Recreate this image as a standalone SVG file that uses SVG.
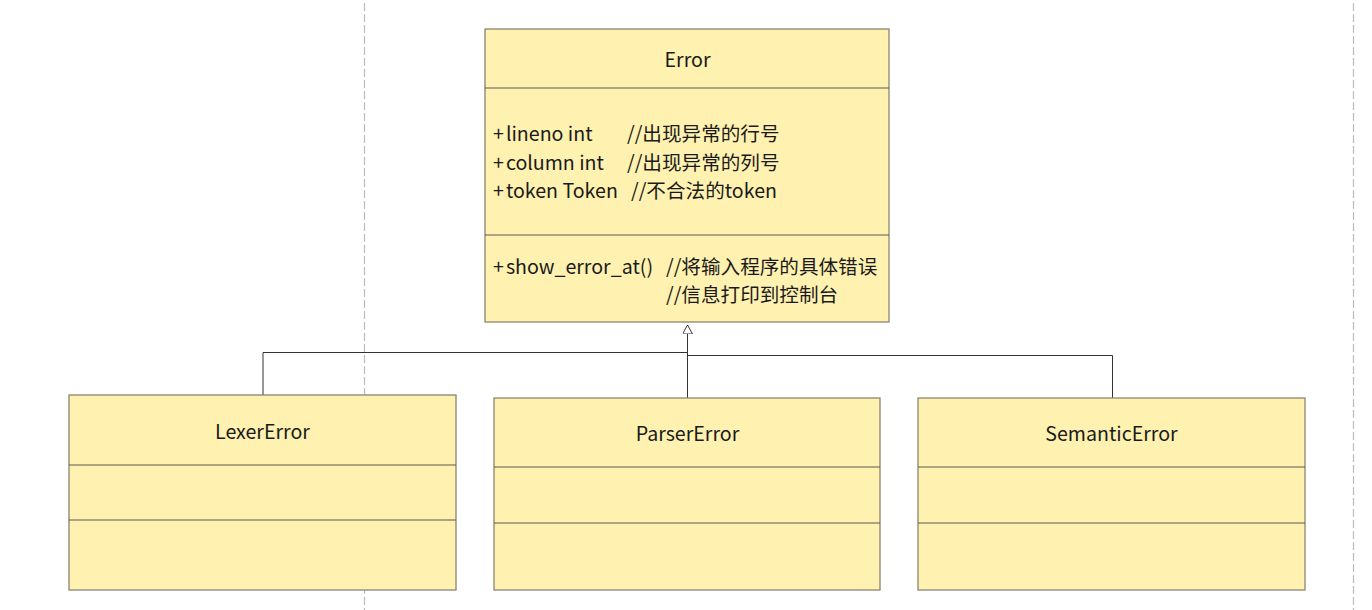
<svg xmlns="http://www.w3.org/2000/svg" width="1372" height="610" viewBox="0 0 1372 610">
<style>
.box{fill:#fff1b0;stroke:#8a8672;stroke-width:1.3}
.div{stroke:#5a5a50;stroke-width:1.2}
.t{font-family:"Noto Sans CJK SC","Liberation Sans",sans-serif;font-size:19.6px;fill:#1a1a1a}
.c{text-anchor:middle}
.conn{fill:none;stroke:#333;stroke-width:1}
.guide{stroke:#bbbbbb;stroke-width:1.2;stroke-dasharray:8 3}
</style>
<defs>
<marker id="tri" markerWidth="12" markerHeight="12" refX="9" refY="5" orient="auto" markerUnits="userSpaceOnUse">
<path d="M0,0 L9,5 L0,10 Z" fill="#fff" stroke="#333" stroke-width="1"/>
</marker>
</defs>
<rect width="1372" height="610" fill="#fff"/>
<line class="guide" x1="364.5" y1="3" x2="364.5" y2="610"/>
<line class="guide" x1="1353.5" y1="3" x2="1353.5" y2="610"/>
<g id="connectors">
<polyline class="conn" points="263,395 263,352.5 687.5,352.5"/>
<polyline class="conn" points="1112.5,398 1112.5,355.5 687.5,355.5"/>
<line class="conn" x1="687.5" y1="398" x2="687.5" y2="325" marker-end="url(#tri)"/>
</g>
<g id="Error">
<rect class="box" x="485" y="29" width="404" height="293"/>
<line class="div" x1="485" y1="88" x2="889" y2="88"/>
<line class="div" x1="485" y1="235" x2="889" y2="235"/>
<text class="t c" x="687.5" y="67">Error</text>
<text class="t" x="493" y="141">+<tspan dx="2">lineno int</tspan></text>
<text class="t" x="627" y="141">//出现异常的行号</text>
<text class="t" x="493" y="170">+<tspan dx="2">column int</tspan></text>
<text class="t" x="627" y="170">//出现异常的列号</text>
<text class="t" x="493" y="198">+<tspan dx="2">token Token</tspan></text>
<text class="t" x="631" y="198">//不合法的token</text>
<text class="t" x="493" y="274">+<tspan dx="2">show_error_at()</tspan></text>
<text class="t" x="666" y="274">//将输入程序的具体错误</text>
<text class="t" x="666" y="302">//信息打印到控制台</text>
</g>
<g id="LexerError">
<rect class="box" x="69" y="395" width="387" height="195"/>
<line class="div" x1="69" y1="465" x2="456" y2="465"/>
<line class="div" x1="69" y1="520" x2="456" y2="520"/>
<text class="t c" x="262.5" y="439">LexerError</text>
</g>
<g id="ParserError">
<rect class="box" x="494" y="398" width="386" height="192"/>
<line class="div" x1="494" y1="467" x2="880" y2="467"/>
<line class="div" x1="494" y1="523" x2="880" y2="523"/>
<text class="t c" x="687.5" y="441">ParserError</text>
</g>
<g id="SemanticError">
<rect class="box" x="918" y="398" width="387" height="192"/>
<line class="div" x1="918" y1="467" x2="1305" y2="467"/>
<line class="div" x1="918" y1="523" x2="1305" y2="523"/>
<text class="t c" x="1111.5" y="441">SemanticError</text>
</g>
</svg>
